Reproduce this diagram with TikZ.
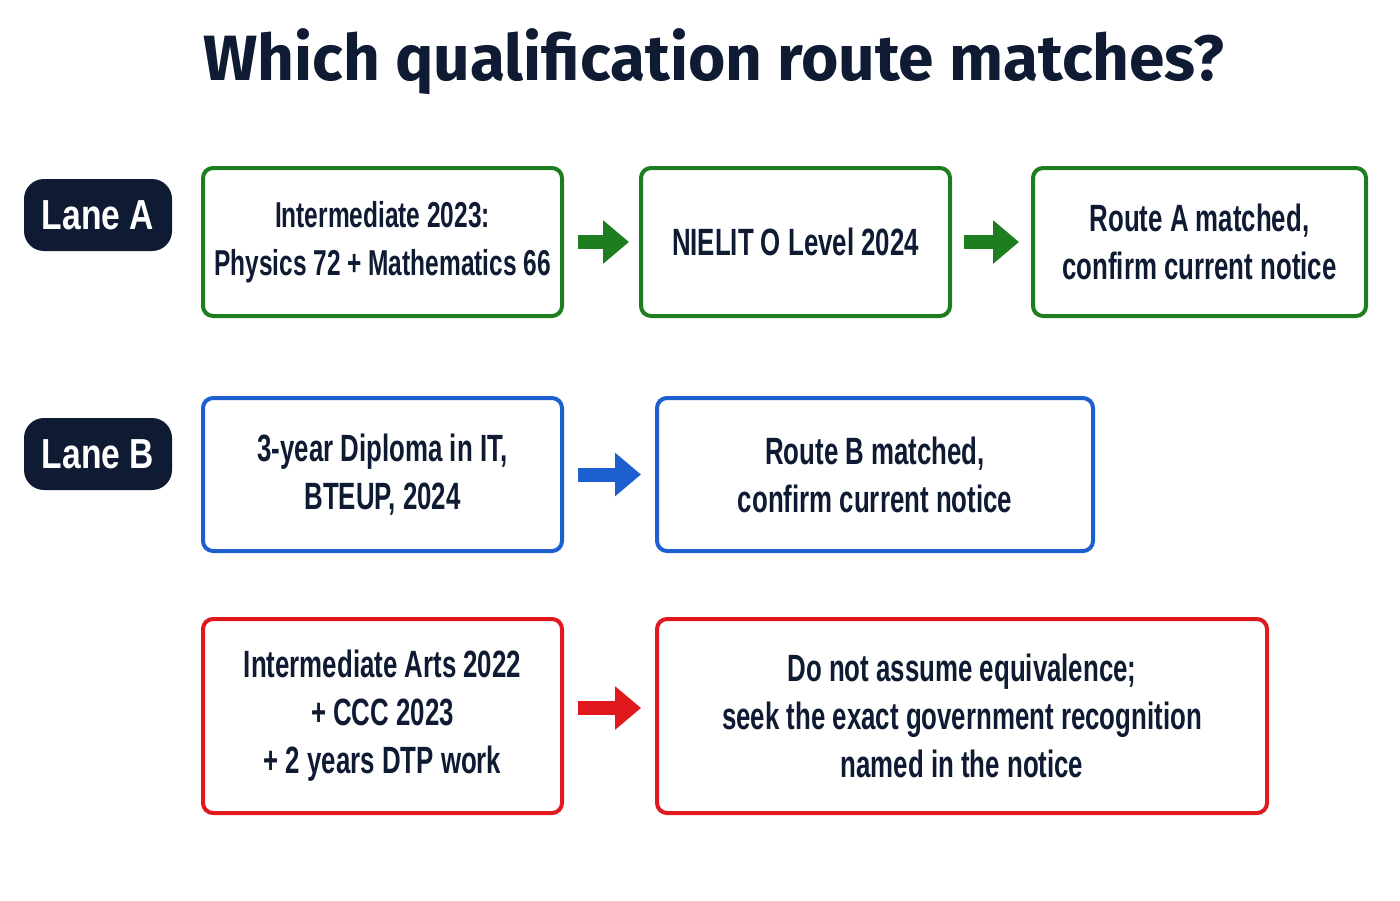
\documentclass[tikz,border=0pt]{standalone}
\usepackage{fontspec}
\setmainfont{Liberation Sans}[FakeStretch=0.68]
\newfontfamily\lanefont{Liberation Sans}[FakeStretch=0.8]
\newfontfamily\titlefont{Fira Sans}
\usetikzlibrary{arrows.meta}
\definecolor{navy}{HTML}{0F1A33}
\definecolor{gA}{HTML}{1E7D1E}
\definecolor{bB}{HTML}{1E5FD0}
\definecolor{rC}{HTML}{E0191E}
\begin{document}
\begin{tikzpicture}[x=0.5pt,y=-0.5pt,
 box/.style={draw=#1,line width=2pt,rounded corners=5pt,fill=white,align=center,
   font=\bfseries\fontsize{19}{24}\selectfont\color{navy},inner sep=0pt},
 lane/.style={fill=navy,rounded corners=10pt,text=white,font=\lanefont\bfseries\fontsize{21}{24}\selectfont,inner sep=0pt},
 arr/.style={draw=#1,line width=7pt,-{Triangle[length=13pt,width=21pt]}}]
\useasboundingbox (0,0) rectangle (1400,900);
\node[font=\titlefont\bfseries\fontsize{32}{36}\selectfont,text=navy] (title) at (714,62) {Which qualification route matches?};
\node[lane,minimum width=74pt,minimum height=36pt] (la) at (98,215) {Lane A};
\node[lane,minimum width=74pt,minimum height=36pt] (lb) at (98,454) {Lane B};
\node[box=gA,minimum width=179.5pt,minimum height=74pt,font=\bfseries\fontsize{18}{24}\selectfont\color{navy}] (a1) at (382.5,242) {Intermediate 2023:\\Physics 72 + Mathematics 66};
\node[box=gA,minimum width=154.5pt,minimum height=74pt] (a2) at (795.5,242) {NIELIT O Level 2024};
\node[box=gA,minimum width=166.5pt,minimum height=74pt] (a3) at (1199.5,242) {Route A matched,\\confirm current notice};
\node[box=bB,minimum width=179.5pt,minimum height=76.5pt] (b1) at (382.5,474.5) {3-year Diploma in IT,\\BTEUP, 2024};
\node[box=bB,minimum width=218pt,minimum height=76.5pt] (b2) at (875,474.5) {Route B matched,\\confirm current notice};
\node[box=rC,minimum width=179.5pt,minimum height=97pt] (c1) at (382.5,716) {Intermediate Arts 2022\\+ CCC 2023\\+ 2 years DTP work};
\node[box=rC,minimum width=305pt,minimum height=97pt] (c2) at (962,716) {Do not assume equivalence;\\seek the exact government recognition\\named in the notice};
\draw[arr=gA,shorten <=7pt,shorten >=5pt] (a1.east) -- (a2.west);
\draw[arr=gA,shorten <=6pt,shorten >=6pt] (a2.east) -- (a3.west);
\draw[arr=bB,shorten <=7pt,shorten >=7pt] (b1.east) -- (b2.west);
\draw[arr=rC,shorten <=7pt,shorten >=7pt] ([yshift=4pt]c1.east) -- ([yshift=4pt]c2.west);
\end{tikzpicture}
\end{document}
